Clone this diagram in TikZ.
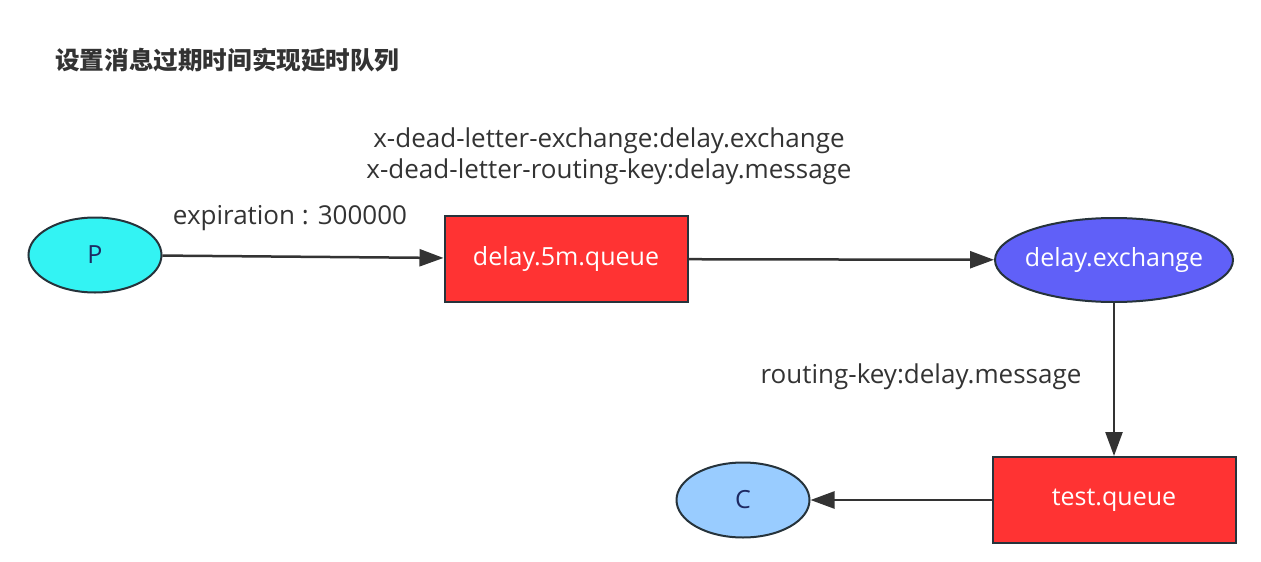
\documentclass[tikz,border=0pt]{standalone}
\usepackage{fontspec}
\setmainfont{Open Sans}
\newfontfamily\cjk{Noto Sans CJK SC}
\usetikzlibrary{arrows.meta,shapes.geometric}
\definecolor{queuered}{HTML}{FF3333}
\definecolor{exblue}{HTML}{6060F8}
\definecolor{pcyan}{HTML}{33F3F3}
\definecolor{clblue}{HTML}{99CCFF}
\definecolor{edge}{HTML}{333333}
\definecolor{rim}{HTML}{26333B}
\begin{document}
\begin{tikzpicture}[x=1pt,y=-1pt]
\tikzstyle{every node}=[inner sep=0pt, font=\fontsize{26}{28}\selectfont, text=edge]
\tikzstyle{queuebox}=[draw=rim, line width=2pt, fill=queuered, rectangle, minimum width=243pt, minimum height=86pt, text=white, font=\fontsize{25}{28}\selectfont]
\tikzstyle{client}=[draw=rim, line width=2pt, ellipse, minimum width=133pt, minimum height=75pt, text=rim!80!blue, font=\fontsize{25}{28}\selectfont]
\tikzstyle{link}=[draw=edge, line width=2.5pt, -{Triangle[length=24pt,width=17pt]}]
\useasboundingbox (0,0) rectangle (1261,562);
\draw (55,60) node (title) [anchor=west] {\cjk\bfseries\fontsize{24.6}{26}\selectfont 设置消息过期时间实现延时队列};
\draw (95,255) node (p) [client, fill=pcyan] {P};
\draw (566,259) node (q5m) [queuebox] {delay.5m.queue};
\draw (1114,260) node (dx) [client, fill=exblue, minimum width=238pt, minimum height=84pt, text=white] {\makebox[120pt]{delay.exchange}};
\draw (1114,500) node (tq) [queuebox] {test.queue};
\draw (743,500) node (c) [client, fill=clblue] {C};
\draw (290,218) node (exp) {expiration : 300000};
\draw (609,141) node (dlx) {x-dead-letter-exchange:delay.exchange};
\draw (609,172) node (dlk) {x-dead-letter-routing-key:delay.message};
\draw (921,377) node (rk) {routing-key:delay.message};
\draw[link] (p) -- (q5m);
\draw[link] (q5m) -- (dx);
\draw[link] (dx) -- (tq);
\draw[link] (tq) -- (c);
\end{tikzpicture}
\end{document}
